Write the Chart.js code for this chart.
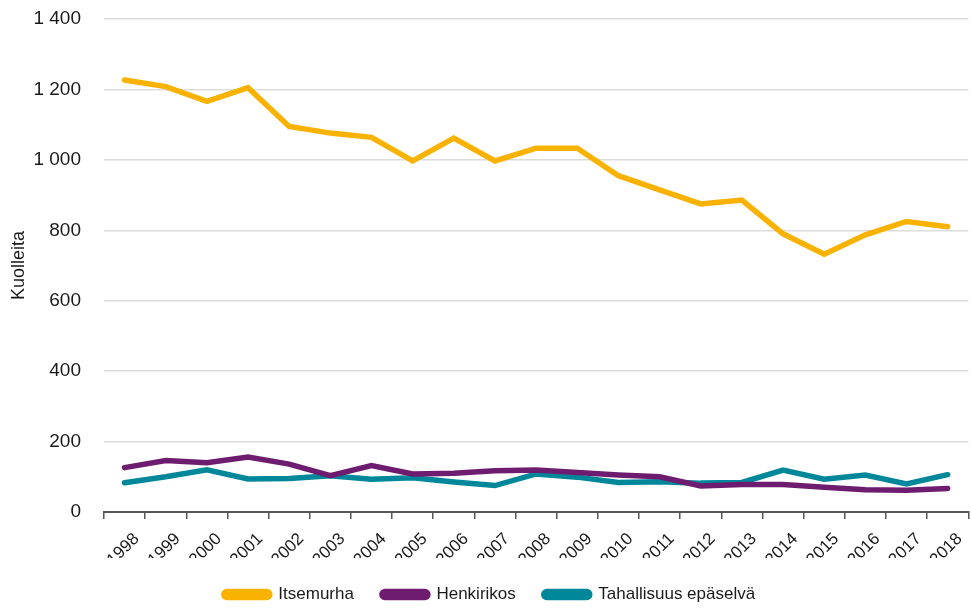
<!DOCTYPE html>
<html>
<head>
<meta charset="utf-8">
<script src="https://cdn.jsdelivr.net/npm/chart.js@4"></script>
<style>
  html, body { margin: 0; padding: 0; background: #fff; }
  #wrap { width: 971px; height: 608px; position: relative; }
</style>
</head>
<body>
<div id="wrap"><canvas id="c" width="971" height="608"></canvas></div>
<script>
const years = ['1998','1999','2000','2001','2002','2003','2004','2005','2006','2007','2008','2009','2010','2011','2012','2013','2014','2015','2016','2017','2018'];
const itsemurha = [1227,1208,1166,1205,1095,1076,1064,997,1062,997,1033,1033,955,915,875,886,790,732,787,825,810];
const henkirikos = [126,146,140,156,136,103,132,108,110,117,119,112,105,100,74,78,78,70,63,62,67];
const tahallisuus = [83,100,120,94,95,103,93,97,85,75,108,99,84,86,82,84,119,93,105,80,106];
const seriesNames = ['Itsemurha','Henkirikos','Tahallisuus epäselvä'];
const yTicks = [0,200,400,600,800,1000,1200,1400];
const yTitle = 'Kuolleita';

const FONT = "'Liberation Sans', Arial, sans-serif";
const colors = ['#F9B200', '#6E1C6F', '#00889A'];
const data = [itsemurha, henkirikos, tahallisuus];

const chart = new Chart(document.getElementById('c'), {
  type: 'line',
  data: {
    labels: years,
    datasets: seriesNames.map((n, i) => ({
      label: n,
      data: data[i],
      borderColor: colors[i],
      backgroundColor: colors[i],
      borderWidth: 5.5,
      pointRadius: 0,
      tension: 0,
      borderCapStyle: 'round',
      borderJoinStyle: 'miter'
    }))
  },
  options: {
    responsive: false,
    animation: false,
    layout: { padding: { top: 19, right: 0, left: 8, bottom: 0 } },
    plugins: {
      tooltip: { enabled: false },
      legend: {
        position: 'bottom',
        labels: {
          color: '#1a1a1a',
          font: { family: FONT, size: 17 },
          boxWidth: 46,
          boxHeight: 6,
          useBorderRadius: true,
          borderRadius: 3,
          padding: 28
        }
      }
    },
    scales: {
      x: {
        offset: true,
        afterFit: (axis) => { axis.height = 46; axis.paddingLeft = 0; axis.paddingRight = 0; },
        grid: { display: true, drawOnChartArea: false, drawTicks: true, tickLength: 7, offset: true, color: '#555', lineWidth: 1.5 },
        border: { display: true, color: '#555', width: 2 },
        ticks: {
          color: '#1a1a1a',
          font: { family: FONT, size: 17 },
          minRotation: 45, maxRotation: 45,
          autoSkip: false,
          labelOffset: 12,
          padding: 10
        }
      },
      y: {
        min: 0, max: 1400,
        afterBuildTicks: (axis) => { axis.ticks = yTicks.map(v => ({ value: v })); },
        afterFit: (axis) => { axis.width = 96; axis.paddingTop = 0; axis.paddingBottom = 0; },
        grid: { color: '#dcdcdc', lineWidth: 1.5, drawTicks: false },
        border: { display: false },
        ticks: {
          color: '#1a1a1a',
          font: { family: FONT, size: 19 },
          padding: 23,
          callback: (v) => String(v).replace(/\B(?=(\d{3})+(?!\d))/g, ' ')
        },
        title: {
          display: true,
          text: yTitle,
          color: '#1a1a1a',
          font: { family: FONT, size: 18 },
          padding: { top: 0, bottom: 0 }
        }
      }
    }
  }
});
// Shrink the legend box height so it sits near the bottom edge while keeping wide item spacing
const origFit = chart.legend.fit;
chart.legend.fit = function () { origFit.call(this); this.height = 50; };
chart.update();
</script>
</body>
</html>
